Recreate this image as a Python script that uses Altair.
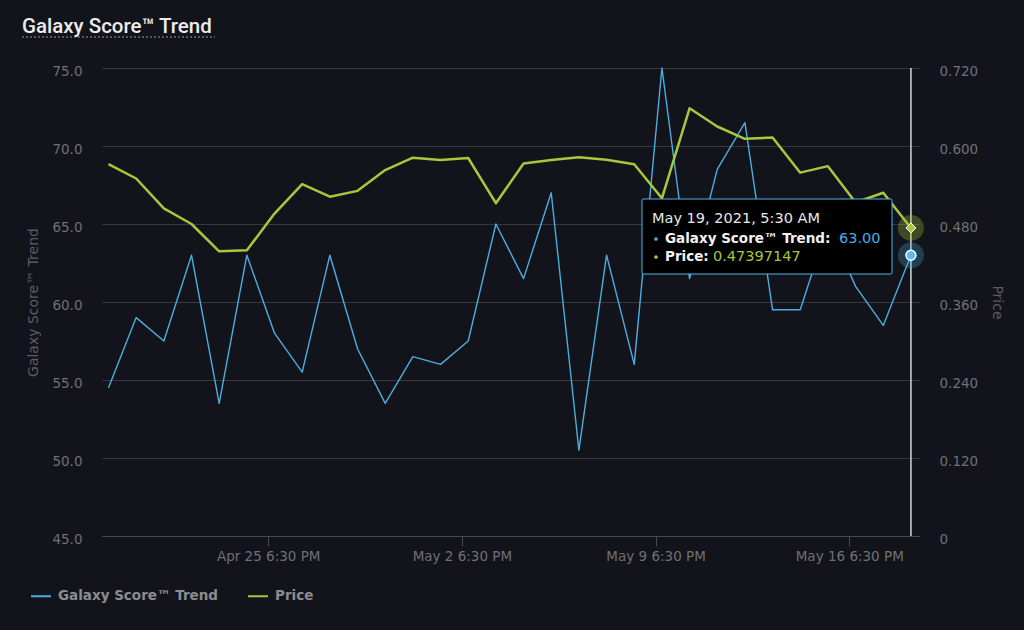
import altair as alt
import pandas as pd

# ---------------- data ----------------
SERIES = ["Galaxy Score™ Trend", "Price"]
COLORS = ["#4aaee0", "#a6c83c"]

dates = pd.date_range("2021-04-20", periods=30, freq="D").strftime("%Y-%m-%dT%H:%M:%S").tolist()

score = [54.5, 59.0, 57.5, 63.0, 53.5, 63.0, 58.0, 55.5, 63.0, 57.0,
         53.5, 56.5, 56.0, 57.5, 65.0, 61.5, 67.0, 50.5, 63.0, 56.0,
         75.0, 61.5, 68.5, 71.5, 59.5, 59.5, 65.0, 61.0, 58.5, 63.0]

price = [0.572, 0.550, 0.504, 0.480, 0.438, 0.4395, 0.496, 0.5415, 0.522, 0.531,
         0.563, 0.582, 0.5785, 0.5815, 0.512, 0.573, 0.5785, 0.5826, 0.579, 0.572,
         0.5195, 0.658, 0.630, 0.611, 0.613, 0.559, 0.569, 0.513, 0.528, 0.47397147]

score_ticks = [45, 50, 55, 60, 65, 70, 75]
price_ticks = [0, 0.12, 0.24, 0.36, 0.48, 0.6, 0.72]
tooltip_date = "May 19, 2021, 5:30 AM"

df = pd.DataFrame({"date": dates, "score": score, "price": price})
last = df.iloc[[-1]].reset_index(drop=True)

# ---------------- styling ----------------
BG = "#13141b"
GRID = "#38393f"
LABEL = "#6e7075"
TITLE_C = "#5a5c61"
FONT = "DejaVu Sans"
W, H = 817, 468

xdt = [alt.DateTime(year=2021, month=4, date=25, hours=18, minutes=30),
       alt.DateTime(year=2021, month=5, date=2, hours=18, minutes=30),
       alt.DateTime(year=2021, month=5, date=9, hours=18, minutes=30),
       alt.DateTime(year=2021, month=5, date=16, hours=18, minutes=30)]

x_enc = alt.X(
    "date:T",
    title=None,
    scale=alt.Scale(domain=[alt.DateTime(year=2021, month=4, date=19, hours=18, minutes=22),
                            alt.DateTime(year=2021, month=5, date=19, hours=7)]),
    axis=alt.Axis(values=xdt, format="%b %-d %-I:%M %p", grid=False,
                  domain=True, domainColor="#4a4c52", ticks=True, tickColor="#4a4c52",
                  tickSize=10, labelPadding=3, labelFlush=False, labelOverlap=False,
                  labelColor=LABEL, labelFont=FONT, labelFontSize=13.5),
)

y_score = alt.Y(
    "score:Q",
    scale=alt.Scale(domain=[45, 75], nice=False, zero=False),
    axis=alt.Axis(orient="left", values=score_ticks, format=".1f", grid=True,
                  gridColor=GRID, gridWidth=1, domain=False, ticks=False,
                  labelPadding=20, labelOffset=3, labelColor=LABEL, labelFont=FONT,
                  labelFontSize=13.5, title=SERIES[0], titleX=-69, titleY=H / 2,
                  titleAngle=270, titleAlign="center", titleBaseline="middle",
                  titleColor=TITLE_C, titleFont=FONT, titleFontSize=14,
                  titleFontWeight="normal"),
)

y_price = alt.Y(
    "price:Q",
    scale=alt.Scale(domain=[0, 0.72], nice=False, zero=True),
    axis=alt.Axis(orient="right", values=price_ticks,
                  labelExpr="datum.value == 0 ? '0' : format(datum.value, '.3f')",
                  grid=False, domain=False, ticks=False, labelPadding=20, labelOffset=3,
                  labelColor=LABEL, labelFont=FONT, labelFontSize=13.5,
                  title=SERIES[1], titleX=77, titleY=H / 2, titleAngle=90,
                  titleAlign="center", titleBaseline="middle", titleColor=TITLE_C,
                  titleFont=FONT, titleFontSize=14, titleFontWeight="normal"),
)

color_scale = alt.Scale(domain=SERIES, range=COLORS)
legend = alt.Legend(orient="none", legendX=-72, legendY=517, direction="horizontal",
                    title=None, symbolType="stroke", symbolSize=400, symbolStrokeWidth=2,
                    labelFont=FONT, labelFontWeight="bold", labelFontSize=13.5,
                    labelColor="#8b8c90", labelOffset=6, columnPadding=26, padding=0)

base = alt.Chart(df)
base_last = alt.Chart(last)

# blue group
crosshair = base_last.mark_rule(color="#d9d9d9", strokeWidth=1.5).encode(x=x_enc)
blue_line = base.transform_calculate(series="'Galaxy Score™ Trend'").mark_line(
    strokeWidth=1.4, strokeJoin="round").encode(
    x=x_enc, y=y_score,
    color=alt.Color("series:N", scale=color_scale, legend=legend, sort=SERIES))
blue_halo = base_last.mark_point(shape="circle", filled=True, size=676, color=COLORS[0],
                                 opacity=0.28).encode(x=x_enc, y=y_score)
blue_pt = base_last.mark_point(shape="circle", filled=True, size=100, fill="#5bbcf5",
                               stroke="white", strokeWidth=1.5, opacity=1).encode(x=x_enc, y=y_score)
blue_group = alt.layer(crosshair, blue_line, blue_halo, blue_pt)

# green group
green_line = base.transform_calculate(series="'Price'").mark_line(
    strokeWidth=2.5, strokeJoin="round").encode(
    x=x_enc, y=y_price,
    color=alt.Color("series:N", scale=color_scale, legend=legend, sort=SERIES))
green_halo = base_last.mark_point(shape="circle", filled=True, size=676, color=COLORS[1],
                                  opacity=0.3).encode(x=x_enc, y=y_price)
green_pt = base_last.mark_point(shape="diamond", filled=True, size=100, fill=COLORS[1],
                                stroke="white", strokeWidth=1, opacity=1).encode(x=x_enc, y=y_price)
green_group = alt.layer(green_line, green_halo, green_pt)

# tooltip box (annotation)
one = alt.Chart(pd.DataFrame({"k": [0]}))
tip_box = one.mark_rect(fill="#000000", stroke="#4fb3e8", strokeWidth=1, cornerRadius=1).encode(
    x=alt.value(540), x2=alt.value(790), y=alt.value(131), y2=alt.value(206))
tip_date = one.mark_text(text=tooltip_date, align="left", baseline="middle", font=FONT,
                         fontSize=14.5, color="#e8e8e8").encode(x=alt.value(550), y=alt.value(151))
tip_b1 = one.mark_point(shape="circle", filled=True, size=14, color=COLORS[0], opacity=1).encode(
    x=alt.value(554), y=alt.value(171))
tip_b2 = one.mark_point(shape="circle", filled=True, size=14, color=COLORS[1], opacity=1).encode(
    x=alt.value(554), y=alt.value(189))
tip_l1 = one.mark_text(text=SERIES[0] + ":", align="left", baseline="middle", font=FONT,
                       fontSize=13.5, fontWeight="bold", color="#f2f2f2").encode(
    x=alt.value(563), y=alt.value(171))
tip_v1 = one.mark_text(text=f"{score[-1]:.2f}", align="left", baseline="middle", font=FONT,
                       fontSize=14.5, color=COLORS[0]).encode(x=alt.value(737), y=alt.value(171))
tip_l2 = one.mark_text(text=SERIES[1] + ":", align="left", baseline="middle", font=FONT,
                       fontSize=13.5, fontWeight="bold", color="#f2f2f2").encode(
    x=alt.value(563), y=alt.value(189))
tip_v2 = one.mark_text(text=f"{price[-1]:.8f}", align="left", baseline="middle", font=FONT,
                       fontSize=14.5, color=COLORS[1]).encode(x=alt.value(611), y=alt.value(189))

# header title (annotation)
head = one.mark_text(text="Galaxy Score™ Trend", align="left", baseline="alphabetic",
                     font="Roboto", fontSize=20.5, fontWeight=500, color="#ececec").encode(
    x=alt.value(-80), y=alt.value(-35))
head_line = one.mark_rule(color="#9a9ba0", strokeWidth=1, strokeDash=[2, 2]).encode(
    x=alt.value(-80), x2=alt.value(113), y=alt.value(-31))

chart = alt.layer(
    blue_group, green_group,
    tip_box, tip_date, tip_b1, tip_b2, tip_l1, tip_v1, tip_l2, tip_v2,
    head, head_line,
).resolve_scale(y="independent").properties(
    width=W, height=H,
    padding={"left": 102, "top": 68, "right": 105, "bottom": 94},
    autosize=alt.AutoSizeParams(type="none"),
).configure(background=BG).configure_view(stroke=None)

chart.save("out.html", embed_options={"renderer": "svg", "actions": False})
